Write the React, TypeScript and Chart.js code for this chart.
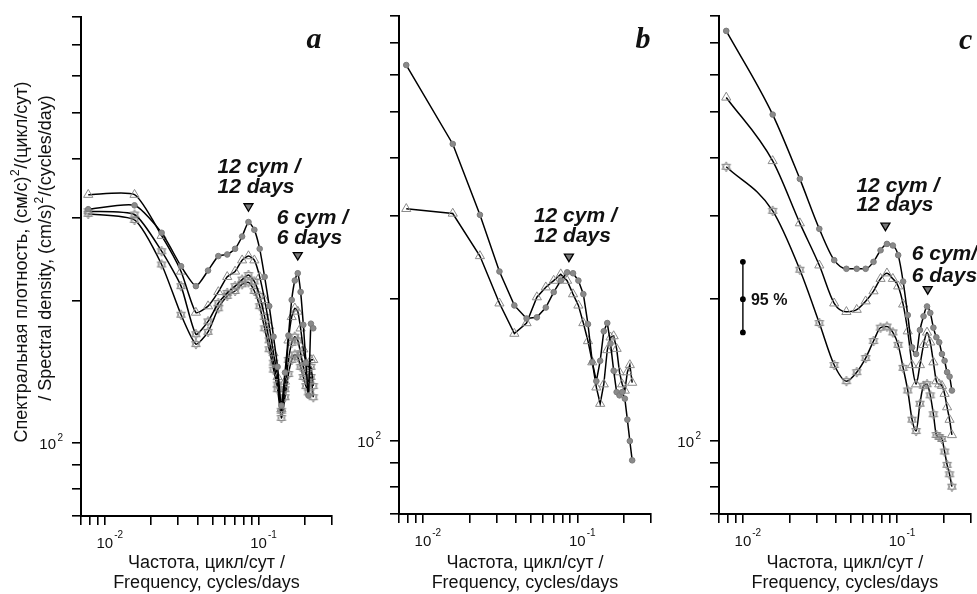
import React, { useEffect, useRef } from "react";
import { Chart, registerables } from "chart.js";
Chart.register(...registerables);

// ---------- data ----------
const FREQ = [0.0078, 0.0156, 0.0234, 0.0313, 0.0391, 0.0469, 0.0547, 0.0625, 0.0703, 0.0781, 0.0859, 0.0938, 0.1016, 0.1094, 0.1172, 0.125, 0.1328, 0.1406, 0.1484, 0.1563, 0.1641, 0.1719, 0.1797, 0.1875, 0.1953, 0.2031, 0.2109, 0.2188, 0.2266];

const A1 = [313, 319, 279, 237, 215, 232, 249, 251, 258, 274, 294, 283, 258, 225, 195, 168, 145, 120, 141, 169, 201, 221, 229, 209, 178, 148, 126, 179, 175];
const A2 = [336, 336, 275, 231, 189, 195, 209, 225, 231, 244, 249, 244, 225, 201, 177, 155, 138, 118, 135, 165, 185, 193, 190, 175, 158, 148, 145, 150, 150];
const A3 = [310, 305, 255, 215, 170, 181, 198, 208, 215, 222, 227, 220, 205, 185, 165, 148, 133, 117, 130, 150, 163, 168, 165, 155, 145, 140, 135, 145, 132];
const A4 = [306, 297, 239, 187, 162, 172, 193, 205, 210, 217, 219, 210, 195, 175, 158, 143, 130, 113, 125, 140, 150, 154, 152, 145, 138, 132, 128, 138, 125];

const B1 = [628, 427, 302, 229, 194, 182, 183, 192, 207, 219, 228, 227, 219, 205, 177, 147, 134, 148, 171, 178, 161, 141, 127, 125, 127, 123, 111, 100, 91];
const B2 = [311, 304, 247, 196, 169, 178, 202, 212, 219, 226, 219, 205, 194, 178, 163, 147, 130, 120, 132, 156, 166, 167, 157, 140, 132, 128, 140, 145, 133];

const C1 = [742, 493, 360, 282, 242, 232, 232, 232, 240, 254, 262, 260, 248, 218, 185, 158, 153, 172, 184, 193, 187, 174, 166, 162, 153, 148, 140, 137, 128];
const C2 = [536, 393, 290, 236, 196, 188, 190, 198, 208, 221, 227, 221, 213, 195, 171, 145, 132, 145, 160, 170, 162, 147, 134, 132, 131, 126, 118, 111, 103];
const C3 = [382, 308, 231, 178, 145, 134, 140, 150, 163, 174, 175, 170, 160, 143, 128, 111, 105, 120, 131, 132, 125, 114, 103, 102, 101, 95, 89, 85, 80];

// 95 % confidence bar (panel c)
const CI_FREQ = 0.01;
const CI_VALUES = [170, 200, 240];

const X_TICKS = [0.007, 0.008, 0.009, 0.01, 0.02, 0.03, 0.04, 0.05, 0.06, 0.07, 0.08, 0.09, 0.1, 0.2, 0.3];
const Y_TICKS = [70, 80, 90, 100, 200, 300, 400, 500, 600, 700, 800];
const X_TICK_LABELS = [{ v: 0.01, base: "10", exp: "-2" }, { v: 0.1, base: "10", exp: "-1" }];
const Y_TICK_LABELS = [{ v: 100, base: "10", exp: "2" }];

const X_TITLE = ["Частота, цикл/сут /", "Frequency, cycles/days"];
const Y_TITLE_1 = ["Спектральная плотность, (см/с)", "2", "/(цикл/сут)"];
const Y_TITLE_2 = ["/ Spectral density, (cm/s)", "2", "/(cycles/day)"];

// peak annotations: frequency, value of the marker
const PEAKS_A = [
  { f: 0.0859, v: 316, lines: ["12 cym /", "12 days"], dx: -31, dy: [-40, -20] },
  { f: 0.1797, v: 249, lines: ["6 cym /", "6 days"], dx: -21, dy: [-38, -18] },
];
const PEAKS_B = [
  { f: 0.0882, v: 245, lines: ["12 cym /", "12 days"], dx: -35, dy: [-41, -21] },
];
const PEAKS_C = [
  { f: 0.084, v: 285, lines: ["12 cym /", "12 days"], dx: -29, dy: [-40, -21] },
  { f: 0.1579, v: 209, lines: ["6 cym/", "6 days"], dx: -16, dy: [-36, -14] },
];

// ---------- drawing helpers ----------
const SANS = '"Liberation Sans", Arial, sans-serif';
const GRAY = "#8a8a8a";

function makeStar(r: number, color: string) {
  const size = Math.ceil(r * 2 + 4);
  const c = document.createElement("canvas");
  c.width = size;
  c.height = size;
  const g = c.getContext("2d")!;
  g.strokeStyle = color;
  g.lineWidth = 1;
  const cx = size / 2, cy = size / 2;
  for (const rot of [0, Math.PI]) {
    g.beginPath();
    for (let i = 0; i < 3; i++) {
      const a = rot + (i * 2 * Math.PI) / 3 - Math.PI / 2;
      const x = cx + r * Math.cos(a), y = cy + r * Math.sin(a);
      if (i === 0) g.moveTo(x, y); else g.lineTo(x, y);
    }
    g.closePath();
    g.stroke();
  }
  return c;
}

function markerStyle(kind: string, star: HTMLCanvasElement) {
  if (kind === "circle")
    return { pointStyle: "circle", pointRadius: 2.8, pointBackgroundColor: GRAY, pointBorderColor: "#7a7a7a", pointBorderWidth: 1 };
  if (kind === "triangle")
    return { pointStyle: "triangle", pointRadius: 5.3, pointBackgroundColor: "rgba(0,0,0,0)", pointBorderColor: GRAY, pointBorderWidth: 1 };
  return { pointStyle: star, pointRadius: 5, pointBackgroundColor: "rgba(0,0,0,0)", pointBorderColor: GRAY, pointBorderWidth: 1 };
}

function drawRich(ctx: CanvasRenderingContext2D, parts: string[], size: number, supSize: number) {
  // parts: [text, superscript, text]; drawn centred at (0,0), baseline alphabetic
  ctx.font = `${size}px ${SANS}`;
  const w0 = ctx.measureText(parts[0]).width;
  const w2 = ctx.measureText(parts[2]).width;
  ctx.font = `${supSize}px ${SANS}`;
  const w1 = ctx.measureText(parts[1]).width;
  const total = w0 + w1 + w2 + 1;
  let x = -total / 2;
  ctx.textAlign = "left";
  ctx.textBaseline = "alphabetic";
  ctx.font = `${size}px ${SANS}`;
  ctx.fillText(parts[0], x, 0);
  x += w0 + 0.5;
  ctx.font = `${supSize}px ${SANS}`;
  ctx.fillText(parts[1], x, -size * 0.42);
  x += w1 + 0.5;
  ctx.font = `${size}px ${SANS}`;
  ctx.fillText(parts[2], x, 0);
}

type Panel = {
  key: string;
  left: number;
  width: number;
  yAxisW: number;
  padTop: number;
  padRight: number;
  xAxisH: number;
  series: { values: number[]; marker: string }[];
  tension: number;
  monotone: boolean;
  letter: string;
  letterDx: number;
  letterY: number;
  peaks: { f: number; v: number; lines: string[]; dx: number; dy: number[] }[];
  yTitle: boolean;
  ci: boolean;
};

const PANELS: Panel[] = [
  {
    key: "a", left: 0, width: 390, yAxisW: 81, padTop: 17, padRight: 58, xAxisH: 78,
    series: [
      { values: A1, marker: "circle" },
      { values: A2, marker: "triangle" },
      { values: A3, marker: "star" },
      { values: A4, marker: "star" },
    ],
    tension: 0.2, monotone: false, letter: "a", letterDx: -18, letterY: 48, peaks: PEAKS_A, yTitle: true, ci: false,
  },
  {
    key: "b", left: 340, width: 320, yAxisW: 59, padTop: 15.5, padRight: 9, xAxisH: 80,
    series: [
      { values: B1, marker: "circle" },
      { values: B2, marker: "triangle" },
    ],
    tension: 0, monotone: false, letter: "b", letterDx: -8, letterY: 48, peaks: PEAKS_B, yTitle: false, ci: false,
  },
  {
    key: "c", left: 660, width: 317, yAxisW: 59, padTop: 15.5, padRight: 6, xAxisH: 80,
    series: [
      { values: C1, marker: "circle" },
      { values: C2, marker: "triangle" },
      { values: C3, marker: "star" },
    ],
    tension: 0.3, monotone: true, letter: "c", letterDx: -5, letterY: 49, peaks: PEAKS_C, yTitle: false, ci: true,
  },
];

function decoPlugin(panel: Panel) {
  return {
    id: "deco_" + panel.key,
    afterDraw(chart: any) {
      const ctx: CanvasRenderingContext2D = chart.ctx;
      const xs = chart.scales.x, ys = chart.scales.y;
      const ca = chart.chartArea;
      ctx.save();
      ctx.fillStyle = "#111";

      // x tick labels
      for (const t of X_TICK_LABELS) {
        const px = xs.getPixelForValue(t.v);
        ctx.font = `15px ${SANS}`;
        ctx.textAlign = "center";
        ctx.textBaseline = "middle";
        ctx.fillText(t.base, px, ca.bottom + 28);
        const w = ctx.measureText(t.base).width;
        ctx.font = `10px ${SANS}`;
        ctx.textAlign = "left";
        ctx.fillText(t.exp, px + w / 2 + 1, ca.bottom + 19);
      }
      // y tick labels
      for (const t of Y_TICK_LABELS) {
        const py = ys.getPixelForValue(t.v);
        ctx.font = `10px ${SANS}`;
        ctx.textAlign = "right";
        ctx.textBaseline = "middle";
        ctx.fillText(t.exp, ca.left - 18, py - 5);
        ctx.font = `15px ${SANS}`;
        ctx.fillText(t.base, ca.left - 25, py + 2);
      }
      // x title
      ctx.font = `18px ${SANS}`;
      ctx.textAlign = "center";
      ctx.textBaseline = "middle";
      const cx = (ca.left + ca.right) / 2;
      ctx.fillText(X_TITLE[0], cx, 563);
      ctx.fillText(X_TITLE[1], cx, 583);

      // y title
      if (panel.yTitle) {
        ctx.save();
        ctx.translate(27, 262);
        ctx.rotate(-Math.PI / 2);
        drawRich(ctx, Y_TITLE_1, 18, 12);
        ctx.restore();
        ctx.save();
        ctx.translate(51, 248);
        ctx.rotate(-Math.PI / 2);
        drawRich(ctx, Y_TITLE_2, 18, 12);
        ctx.restore();
      }

      // panel letter
      ctx.font = `bold italic 30px "Liberation Serif", "Times New Roman", serif`;
      ctx.textAlign = "center";
      ctx.textBaseline = "alphabetic";
      ctx.fillText(panel.letter, ca.right + panel.letterDx, panel.letterY);

      // peak markers & labels
      for (const p of panel.peaks) {
        const px = xs.getPixelForValue(p.f);
        const py = ys.getPixelForValue(p.v);
        ctx.beginPath();
        ctx.moveTo(px - 4.5, py - 3.5);
        ctx.lineTo(px + 4.5, py - 3.5);
        ctx.lineTo(px, py + 4);
        ctx.closePath();
        ctx.fillStyle = "#777";
        ctx.fill();
        ctx.strokeStyle = "#000";
        ctx.lineWidth = 1.3;
        ctx.stroke();
        ctx.fillStyle = "#111";
        ctx.font = `bold italic 21px ${SANS}`;
        ctx.textAlign = "left";
        ctx.textBaseline = "middle";
        p.lines.forEach((l, i) => ctx.fillText(l, px + p.dx, py + p.dy[i]));
      }

      // 95 % label
      if (panel.ci) {
        const px = xs.getPixelForValue(CI_FREQ);
        const py = ys.getPixelForValue(CI_VALUES[1]);
        ctx.font = `bold 16px ${SANS}`;
        ctx.textAlign = "left";
        ctx.textBaseline = "middle";
        ctx.fillText("95 %", px + 8, py + 1);
      }
      ctx.restore();
    },
  };
}

function buildConfig(panel: Panel, star: HTMLCanvasElement): any {
  const datasets: any[] = panel.series.map((s) => ({
    data: FREQ.map((f, i) => ({ x: f, y: s.values[i] })),
    borderColor: "#000",
    borderWidth: 1.5,
    tension: panel.tension,
    cubicInterpolationMode: panel.monotone ? "monotone" : "default",
    fill: false,
    ...markerStyle(s.marker, star),
  }));
  if (panel.ci) {
    datasets.push({
      data: CI_VALUES.map((v) => ({ x: CI_FREQ, y: v })),
      borderColor: "#000",
      borderWidth: 1.4,
      pointStyle: "circle",
      pointRadius: 2.2,
      pointBackgroundColor: "#000",
      pointBorderColor: "#000",
      tension: 0,
    });
  }
  const axisCommon = {
    type: "logarithmic",
    grid: { drawOnChartArea: false, drawTicks: true, tickLength: 9, color: "#000", lineWidth: 1.6 },
    border: { display: true, color: "#000", width: 2 },
    ticks: { callback: () => "", autoSkip: false, maxRotation: 0, padding: 0 },
  };
  return {
    type: "line",
    data: { datasets },
    options: {
      animation: false,
      responsive: false,
      maintainAspectRatio: false,
      parsing: true,
      layout: { padding: { left: 0, top: panel.padTop, right: panel.padRight, bottom: 0 } },
      plugins: { legend: { display: false }, tooltip: { enabled: false }, title: { display: false } },
      scales: {
        x: {
          ...axisCommon,
          position: "bottom",
          min: 0.007,
          max: 0.3,
          afterBuildTicks: (s: any) => { s.ticks = X_TICKS.map((v) => ({ value: v })); },
          afterFit: (s: any) => { s.height = panel.xAxisH; },
        },
        y: {
          ...axisCommon,
          position: "left",
          min: 70,
          max: 800,
          afterBuildTicks: (s: any) => { s.ticks = Y_TICKS.map((v) => ({ value: v })); },
          afterFit: (s: any) => { s.width = panel.yAxisW; },
        },
      },
    },
    plugins: [decoPlugin(panel)],
  };
}

function PanelChart({ panel }: { panel: Panel }) {
  const ref = useRef<HTMLCanvasElement>(null);
  useEffect(() => {
    if (!ref.current) return;
    const star = makeStar(5, GRAY);
    const chart = new Chart(ref.current, buildConfig(panel, star));
    return () => chart.destroy();
  }, [panel]);
  return (
    <canvas
      ref={ref}
      width={panel.width}
      height={594}
      style={{ position: "absolute", left: panel.left, top: 0, width: panel.width, height: 594 }}
    />
  );
}

export default function App() {
  return (
    <div style={{ position: "absolute", left: 0, top: 0, width: 977, height: 594, background: "#fff", overflow: "hidden" }}>
      {PANELS.map((p) => (
        <PanelChart key={p.key} panel={p} />
      ))}
    </div>
  );
}
